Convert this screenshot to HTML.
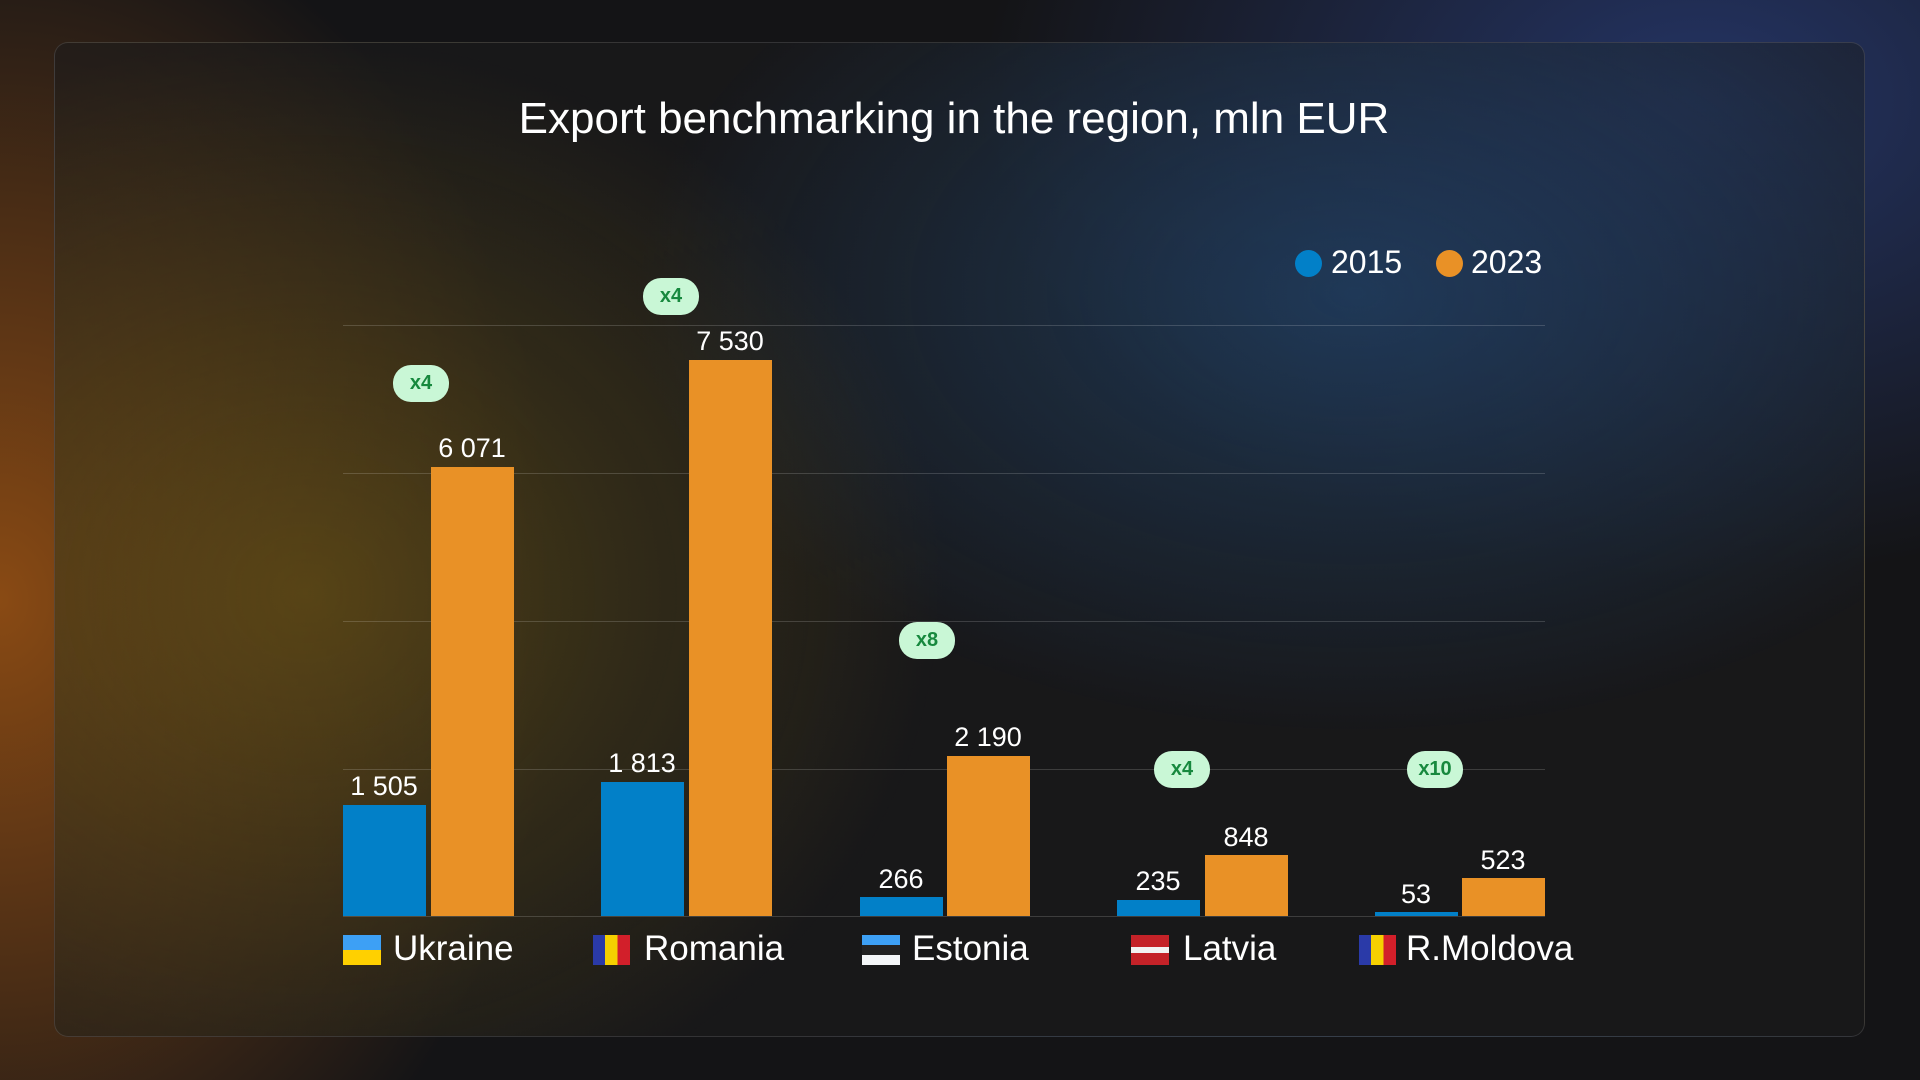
<!DOCTYPE html>
<html><head><meta charset="utf-8"><style>
*{margin:0;padding:0;box-sizing:border-box}
body{width:1920px;height:1080px;overflow:hidden;font-family:"Liberation Sans",sans-serif;color:#fff;
background:radial-gradient(ellipse 700px 900px at 0px 600px,rgba(150,80,20,.9),rgba(0,0,0,0) 80%),radial-gradient(ellipse 900px 600px at 1700px 100px,rgba(40,60,120,.8),rgba(0,0,0,0) 80%),#141416;position:relative}
.card{position:absolute;left:54px;top:42px;width:1811px;height:995px;border-radius:14px;border:1px solid rgba(255,255,255,.12);
background:radial-gradient(ellipse 800px 700px at 250px 550px,rgba(120,95,20,.55),rgba(0,0,0,0) 80%),radial-gradient(ellipse 900px 550px at 1300px 250px,rgba(35,75,120,.6),rgba(0,0,0,0) 80%),rgba(28,28,30,.55)}
.t{position:absolute;white-space:nowrap}
.title{left:0;width:1908px;text-align:center;top:94px;font-size:44px}
.grid{position:absolute;left:343px;width:1202px;height:1px;background:rgba(255,255,255,.16)}
.bar{position:absolute;width:83px}
.b{background:#0280c8}.o{background:#e99126}
.v{position:absolute;width:120px;text-align:center;font-size:27px}
.badge{position:absolute;width:56px;height:37px;margin-left:-28px;margin-top:-18px;border-radius:18px;background:#c9f7d6;color:#17893e;font-size:20px;font-weight:bold;text-align:center;line-height:37px}
.cat{position:absolute;top:929px;font-size:35px}
.flag{position:absolute;top:935px;width:38px;height:30px}
.dot{position:absolute;width:27px;height:27px;border-radius:50%;top:250px}
</style></head><body>
<div class="card"></div>
<div class="t title">Export benchmarking in the region, mln EUR</div>
<div class="dot" style="left:1295px;background:#0280c8"></div><div class="t" style="left:1331px;top:244px;font-size:32px">2015</div>
<div class="dot" style="left:1436px;background:#e99126"></div><div class="t" style="left:1471px;top:244px;font-size:32px">2023</div>
<div class="grid" style="top:325px"></div><div class="grid" style="top:473px"></div><div class="grid" style="top:621px"></div><div class="grid" style="top:769px"></div><div class="grid" style="top:916px"></div>

<div class="bar b" style="left:343px;top:805px;height:111px"></div><div class="v" style="left:324px;top:771px">1 505</div>
<div class="bar o" style="left:431px;top:467px;height:449px"></div><div class="v" style="left:412px;top:433px">6 071</div>
<div class="bar b" style="left:601px;top:782px;height:134px"></div><div class="v" style="left:582px;top:748px">1 813</div>
<div class="bar o" style="left:689px;top:360px;height:556px"></div><div class="v" style="left:670px;top:326px">7 530</div>
<div class="bar b" style="left:860px;top:897px;height:19px"></div><div class="v" style="left:841px;top:864px">266</div>
<div class="bar o" style="left:947px;top:756px;height:160px"></div><div class="v" style="left:928px;top:722px">2 190</div>
<div class="bar b" style="left:1117px;top:900px;height:16px"></div><div class="v" style="left:1098px;top:866px">235</div>
<div class="bar o" style="left:1205px;top:855px;height:61px"></div><div class="v" style="left:1186px;top:822px">848</div>
<div class="bar b" style="left:1375px;top:912px;height:4px"></div><div class="v" style="left:1356px;top:879px">53</div>
<div class="bar o" style="left:1462px;top:878px;height:38px"></div><div class="v" style="left:1443px;top:845px">523</div>

<div class="badge" style="left:421px;top:383px">x4</div>
<div class="badge" style="left:671px;top:296px">x4</div>
<div class="badge" style="left:927px;top:640px">x8</div>
<div class="badge" style="left:1182px;top:769px">x4</div>
<div class="badge" style="left:1435px;top:769px">x10</div>

<div class="flag" style="left:343px;background:linear-gradient(#3da0f5 50%,#ffd000 50%)"></div><div class="cat" style="left:393px">Ukraine</div>
<div class="flag" style="left:593px;width:37px;background:linear-gradient(90deg,#2a3aa8 33%,#f5d000 33%,#f5d000 66%,#d21f2a 66%)"></div><div class="cat" style="left:644px">Romania</div>
<div class="flag" style="left:862px;background:linear-gradient(#3da0f5 33%,#222 33%,#222 66%,#f4f6f8 66%)"></div><div class="cat" style="left:912px">Estonia</div>
<div class="flag" style="left:1131px;background:linear-gradient(#c42228 40%,#f2f2f2 40%,#f2f2f2 60%,#c42228 60%)"></div><div class="cat" style="left:1183px">Latvia</div>
<div class="flag" style="left:1359px;width:37px;background:linear-gradient(90deg,#2a3aa8 33%,#f5d000 33%,#f5d000 66%,#d21f2a 66%)"></div><div class="cat" style="left:1406px">R.Moldova</div>
</body></html>
